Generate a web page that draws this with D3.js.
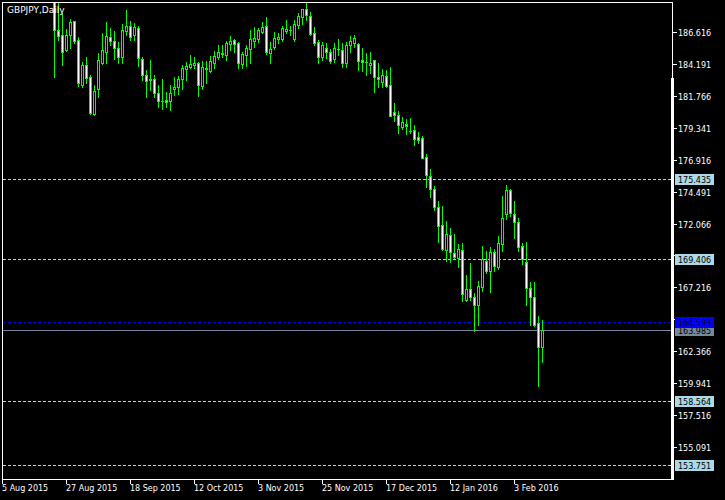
<!DOCTYPE html>
<html><head><meta charset="utf-8">
<script src="https://cdn.jsdelivr.net/npm/d3@7"></script>
<style>html,body{margin:0;padding:0;background:#000;overflow:hidden}</style>
</head><body>
<svg id="c" width="725" height="500"></svg>
<script>
// ---------- DATA ----------
const chartTitle = "GBPJPY,Daily";
// bar index (relative to "5 Aug 2015") of the first candle below
const firstBarIndex = 13;
const openP = [190.90,186.74,186.38,185.24,186.36,187.44,186.00,182.59,184.10,183.19,180.38,182.26,184.28,185.07,186.23,185.90,185.37,184.73,186.71,187.06,186.40,186.89,184.54,183.32,183.02,183.02,181.96,181.39,181.45,181.39,182.31,182.41,183.02,183.78,183.97,184.08,184.23,182.51,183.85,183.65,184.28,184.73,184.92,184.84,185.72,186.00,185.75,184.18,184.86,185.32,185.95,186.05,186.61,187.06,185.04,185.49,186.10,186.08,186.71,186.76,186.08,187.16,187.77,188.33,187.82,186.51,185.83,184.69,185.37,185.11,184.56,185.30,185.24,184.23,185.62,185.75,185.70,184.48,184.33,184.08,184.46,183.19,182.84,183.27,182.59,180.54,180.29,179.38,179.63,179.09,179.17,178.62,178.56,177.14,175.68,174.67,173.30,171.94,170.06,171.18,169.81,169.48,170.06,166.27,167.08,166.52,165.91,167.28,169.23,168.49,169.91,168.79,170.50,172.77,174.59,172.77,172.16,170.37,169.13,167.16,166.47,164.54,162.65];
const highP = [191.10,188.81,188.05,186.84,187.57,187.46,186.25,184.35,184.73,183.34,182.59,185.04,186.51,187.37,186.89,186.68,185.87,187.22,188.28,187.44,187.31,187.06,184.73,183.72,184.48,183.34,182.59,183.04,182.05,182.59,183.17,183.27,184.10,184.35,184.86,184.69,184.35,184.41,184.43,184.79,185.19,185.62,185.62,185.95,186.30,186.08,185.87,185.11,185.62,186.76,187.01,186.89,187.34,187.77,185.87,186.61,186.51,187.06,187.52,187.06,187.52,188.07,188.36,188.90,188.15,187.01,186.00,185.87,185.75,185.30,185.75,186.05,185.75,185.87,186.30,186.38,185.80,185.37,184.99,185.07,184.50,184.23,183.80,183.72,183.97,181.24,180.61,180.18,180.03,180.08,179.55,179.04,178.72,177.35,176.19,174.92,173.78,173.40,172.26,171.71,171.25,170.52,170.57,168.16,169.05,166.82,167.73,170.37,170.01,170.27,170.12,171.13,174.16,175.00,174.67,173.78,172.51,170.57,170.67,167.66,167.66,165.05,164.75];
const lowP = [183.19,186.00,184.10,185.19,185.37,185.80,182.51,182.46,182.72,180.38,180.31,181.70,184.18,184.23,185.62,184.54,184.23,184.23,186.38,186.00,186.00,184.03,182.97,181.65,182.21,181.65,180.94,180.79,180.94,180.69,181.83,181.90,182.26,182.97,183.85,183.85,181.75,182.26,182.72,183.57,183.85,184.54,184.73,184.48,185.24,185.11,183.85,183.85,184.03,184.23,185.49,185.87,186.51,184.94,184.23,185.34,185.80,185.95,186.51,186.40,185.95,186.89,187.22,187.52,186.38,185.62,184.23,184.48,184.61,184.23,184.35,184.86,183.97,183.97,185.11,185.49,183.72,183.67,183.34,183.52,182.08,182.46,182.41,182.41,180.23,179.88,178.97,179.27,178.87,178.92,178.03,178.21,177.02,174.87,174.11,173.10,170.69,170.06,169.25,169.13,169.43,168.79,166.21,166.21,166.27,163.94,164.37,166.97,168.29,166.90,168.49,168.62,170.01,172.39,172.64,171.00,170.01,168.98,165.89,164.37,164.29,159.69,161.58];
const closeP = [186.74,186.33,185.11,186.38,187.37,185.95,182.72,184.10,183.14,180.44,182.15,184.48,185.24,186.30,185.95,185.37,184.73,186.76,187.06,186.21,186.96,184.61,183.34,182.91,183.00,181.96,181.39,181.41,181.32,181.96,182.41,183.04,183.85,184.03,184.16,184.23,182.59,183.93,183.78,184.41,184.79,185.09,184.99,185.80,185.93,185.72,184.23,184.94,185.37,186.08,186.18,186.76,187.01,185.07,185.30,186.13,186.23,186.89,186.81,186.78,187.22,187.82,188.33,187.90,186.45,185.75,184.73,185.62,185.11,184.43,185.37,185.31,184.23,185.62,185.93,186.13,184.43,184.33,184.31,184.23,183.17,183.02,183.32,182.51,180.26,180.33,179.53,179.78,179.50,179.07,178.46,178.41,177.07,175.75,174.67,173.30,171.91,170.12,171.28,169.89,169.51,170.12,166.70,167.08,166.47,165.86,167.33,169.40,168.49,169.91,168.87,170.57,172.47,174.59,172.85,172.16,170.31,169.36,167.16,166.52,164.37,162.65,163.985];
const timeLabels = ["5 Aug 2015","27 Aug 2015","18 Sep 2015","12 Oct 2015","3 Nov 2015","25 Nov 2015","17 Dec 2015","12 Jan 2016","3 Feb 2016"];
const barsPerTimeLabel = 16;
const priceTicks = [186.616,184.191,181.766,179.341,176.916,174.491,172.066,169.641,167.216,164.791,162.366,159.941,157.516,155.091];
const levelLines = [175.435,169.406,158.564,153.751];
const blueLevel = 164.593;
const lastPrice = closeP[closeP.length-1];

// ---------- DRAW ----------
const svg = d3.select("#c").attr("shape-rendering","crispEdges");
svg.append("rect").attr("width",725).attr("height",500).attr("fill","#000");
const P = {l:2, t:2, r:672, b:479};
const x = d3.scaleLinear().domain([0,167.5]).range([2,672]);
const y = d3.scaleLinear().domain([155.091,186.616]).range([447,32]);
const col = i => Math.round(x(i));
const row = p => Math.round(y(p));
const FONT = "DejaVu Sans, Verdana, sans-serif";
const GREEN = "#00ff00";

svg.append("clipPath").attr("id","clip").append("rect")
  .attr("x",P.l+1).attr("y",P.t+1).attr("width",P.r-P.l-1).attr("height",P.b-P.t-1);
const plotG = svg.append("g").attr("clip-path","url(#clip)");

// level lines
levelLines.forEach(v=>{
  plotG.append("line").attr("x1",P.l+1).attr("x2",P.r).attr("y1",row(v)+0.5).attr("y2",row(v)+0.5)
    .attr("stroke","#add8e6").attr("stroke-dasharray","3,2");
});
plotG.append("line").attr("x1",P.l+1).attr("x2",P.r).attr("y1",row(lastPrice)+0.5).attr("y2",row(lastPrice)+0.5)
  .attr("stroke","#778899");
plotG.append("line").attr("x1",P.l+1).attr("x2",P.r).attr("y1",row(blueLevel)+0.5).attr("y2",row(blueLevel)+0.5)
  .attr("stroke","#0000ff").attr("stroke-dasharray","3,2");

// candles
const candles = openP.map((o,k)=>({i:firstBarIndex+k,o,h:highP[k],l:lowP[k],c:closeP[k]}));
const cg = plotG.selectAll("g.cd").data(candles).join("g").attr("class","cd");
cg.append("rect").attr("x",d=>col(d.i)).attr("width",1)
  .attr("y",d=>row(d.h)).attr("height",d=>row(d.l)-row(d.h)+1).attr("fill",GREEN);
cg.append("rect").attr("x",d=>col(d.i)-1).attr("width",3)
  .attr("y",d=>row(Math.max(d.o,d.c))).attr("height",d=>row(Math.min(d.o,d.c))-row(Math.max(d.o,d.c))+1)
  .attr("fill",GREEN);
cg.filter(d=>row(Math.min(d.o,d.c))-row(Math.max(d.o,d.c))>=2)
  .append("rect").attr("x",d=>col(d.i)).attr("width",1)
  .attr("y",d=>row(Math.max(d.o,d.c))+1).attr("height",d=>row(Math.min(d.o,d.c))-row(Math.max(d.o,d.c))-1)
  .attr("fill",d=>d.c<d.o?"#ffffff":"#000000");

// frame
svg.append("rect").attr("x",P.l).attr("y",P.t).attr("width",P.r-P.l+1).attr("height",1).attr("fill","#fff");
svg.append("rect").attr("x",P.l).attr("y",P.b).attr("width",P.r-P.l+1).attr("height",1).attr("fill","#fff");
svg.append("rect").attr("x",P.l).attr("y",P.t).attr("width",1).attr("height",P.b-P.t+1).attr("fill","#fff");
svg.append("rect").attr("x",P.r).attr("y",P.t).attr("width",1).attr("height",P.b-P.t+1).attr("fill","#fff");
svg.append("rect").attr("x",P.r-1).attr("y",78).attr("width",3).attr("height",P.b-78+1).attr("fill","#fff");

// title
svg.append("text").attr("x",7).attr("y",13).attr("fill","#fff").attr("font-family",FONT)
  .attr("font-size",9).text(chartTitle);

// price axis
const yAx = svg.append("g");
const boxRows = levelLines.concat([blueLevel,lastPrice]).map(row);
priceTicks.forEach(v=>{
  const r=row(v);
  yAx.append("rect").attr("x",P.r+1).attr("y",r).attr("width",4).attr("height",1).attr("fill","#fff");
  // tick labels hidden under a price box are not drawn
  if (boxRows.some(b=>Math.abs(b-r)<10)) return;
  yAx.append("text").attr("x",678).attr("y",r+3.5).attr("fill","#fff").attr("font-family",FONT)
    .attr("font-size",8).text(v.toFixed(3));
});
function priceBox(v,bg,h){
  const r=row(v);
  const top = r-5;
  yAx.append("rect").attr("x",675).attr("y",top).attr("width",39).attr("height",h||11).attr("fill",bg);
  yAx.append("text").attr("x",678).attr("y",r+3.5).attr("fill","#000").attr("font-family",FONT)
    .attr("font-size",8).text(v.toFixed(3));
}
levelLines.forEach(v=>priceBox(v,"#add8e6"));
priceBox(lastPrice,"#778899");
priceBox(blueLevel,"#0000ff");

// time axis
const xAx = svg.append("g");
timeLabels.forEach((t,k)=>{
  const cx = col(k*barsPerTimeLabel);
  xAx.append("rect").attr("x",cx).attr("y",P.b+1).attr("width",1).attr("height",4).attr("fill","#fff");
  xAx.append("text").attr("x",cx).attr("y",491).attr("fill","#fff").attr("font-family",FONT)
    .attr("font-size",8).text(t);
});
</script>
</body></html>
